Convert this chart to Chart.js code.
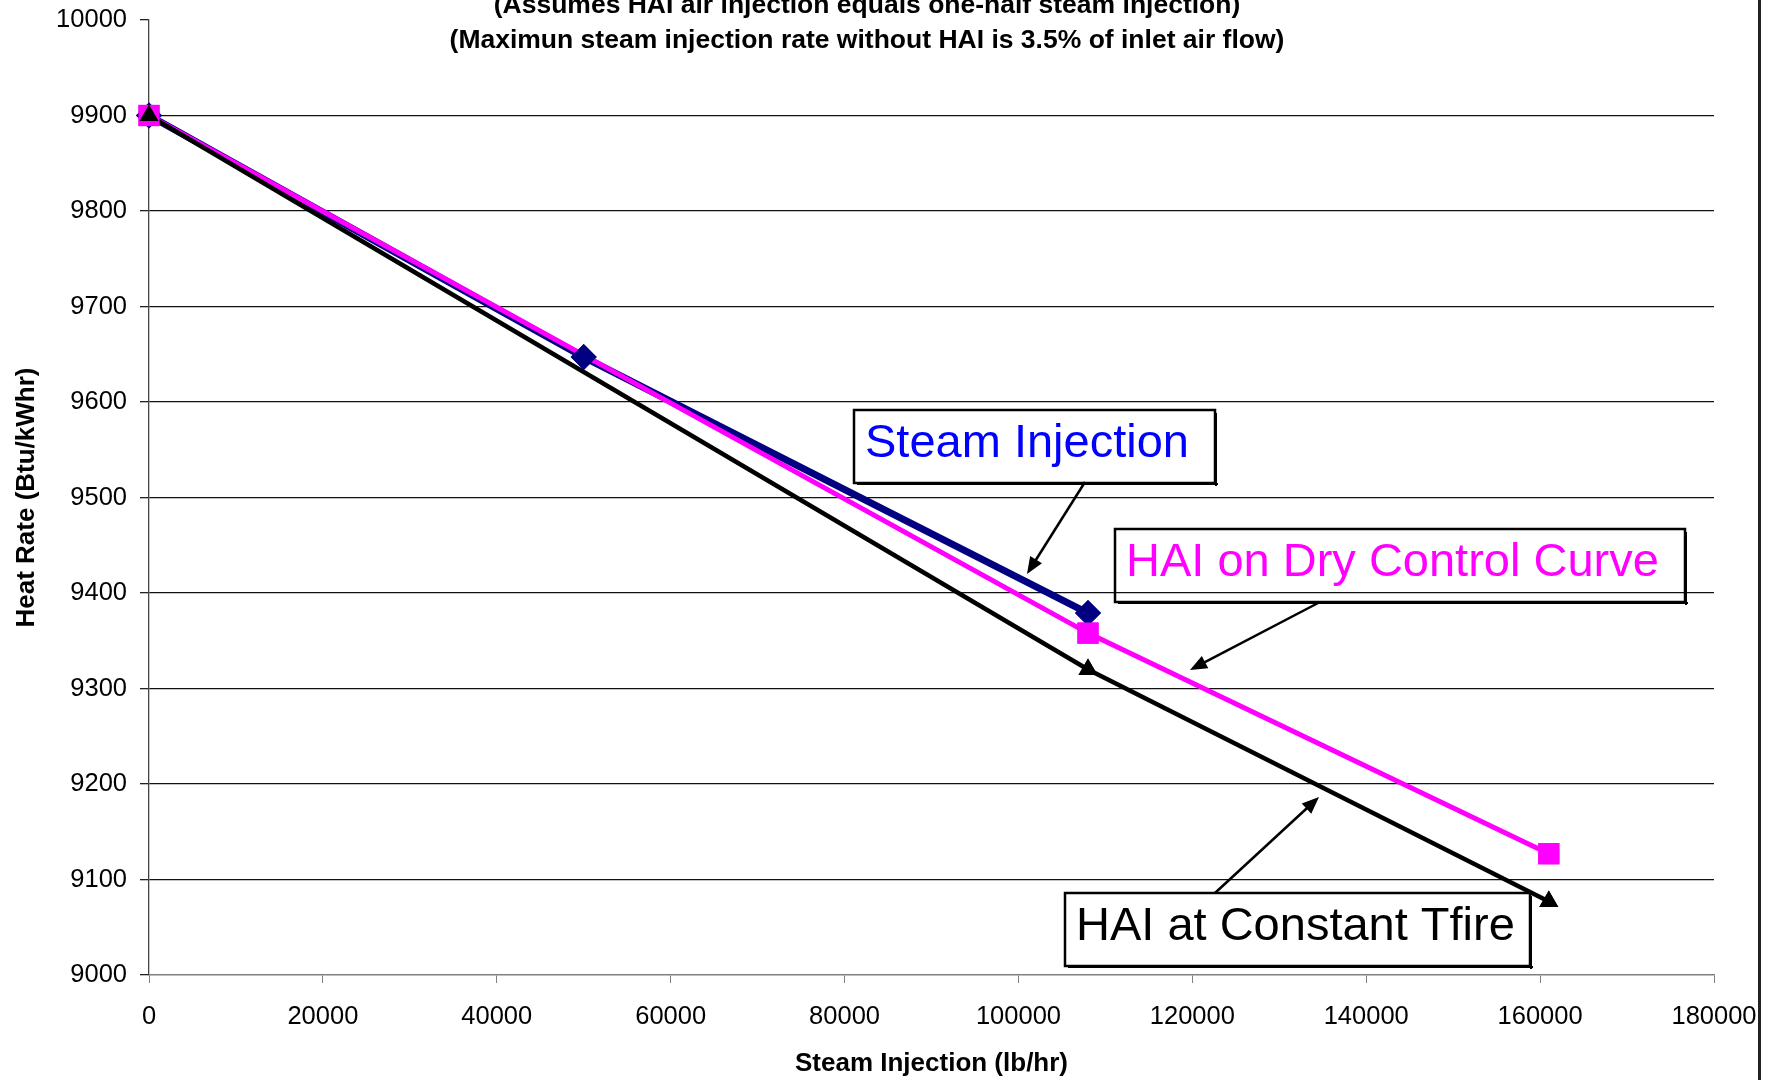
<!DOCTYPE html>
<html>
<head>
<meta charset="utf-8">
<script src="https://cdn.jsdelivr.net/npm/chart.js@4.4.1/dist/chart.umd.min.js"></script>
<style>
  html, body { margin: 0; padding: 0; background: #fff; }
  #wrap { width: 1780px; height: 1080px; }
</style>
</head>
<body>
<div id="wrap"><canvas id="heatChart" width="1780" height="1080"></canvas></div>
<script>
const titleLines = [
  "(Assumes HAI air injection equals one-half steam injection)",
  "(Maximun steam injection rate without HAI is 3.5% of inlet air flow)"
];
const xTicks = [0, 20000, 40000, 60000, 80000, 100000, 120000, 140000, 160000, 180000];
const yTicks = [9000, 9100, 9200, 9300, 9400, 9500, 9600, 9700, 9800, 9900, 10000];
const seriesNames = ["Steam Injection", "HAI on Dry Control Curve", "HAI at Constant Tfire"];

const steamX = [0, 50000, 108000];
const steamY = [9900, 9647, 9379];
const dryX = [0, 108000, 161000];
const dryY = [9900, 9358, 9127];
const tfireX = [0, 108000, 161000];
const tfireY = [9900, 9320, 9077];

const FONT = "'Liberation Sans', Arial, sans-serif";

function toPoints(xs, ys) {
  return xs.map((x, i) => ({ x: x, y: ys[i] }));
}

// text boxes with arrows, in canvas pixels
const notes = [
  { text: seriesNames[0], color: "#0000FF", box: [854, 410, 1215, 483], tx: 865, ty: 457, arrow: [1085, 482, 1027, 574] },
  { text: seriesNames[1], color: "#FF00FF", box: [1115, 529, 1685, 602], tx: 1126, ty: 576, arrow: [1320, 602, 1190, 670] },
  { text: seriesNames[2], color: "#000000", box: [1065, 893, 1530, 966], tx: 1076, ty: 940, arrow: [1215, 893, 1319, 797] }
];

function drawArrow(ctx, x1, y1, x2, y2) {
  const ang = Math.atan2(y2 - y1, x2 - x1);
  const len = 17, half = 7;
  ctx.beginPath();
  ctx.moveTo(x1, y1);
  ctx.lineTo(x2 - Math.cos(ang) * len * 0.8, y2 - Math.sin(ang) * len * 0.8);
  ctx.stroke();
  ctx.beginPath();
  ctx.moveTo(x2, y2);
  ctx.lineTo(x2 - Math.cos(ang) * len - Math.sin(ang) * half, y2 - Math.sin(ang) * len + Math.cos(ang) * half);
  ctx.lineTo(x2 - Math.cos(ang) * len + Math.sin(ang) * half, y2 - Math.sin(ang) * len - Math.cos(ang) * half);
  ctx.closePath();
  ctx.fill();
}

// markers go over all the lines, series by series (like the spreadsheet did)
const markersOnTop = {
  id: "markersOnTop",
  afterDatasetsDraw(chart) {
    [0, 1, 2].forEach(i => {
      chart.getDatasetMeta(i).data.forEach(pt => pt.draw(chart.ctx, chart.chartArea));
    });
  }
};

const extras = {
  id: "extras",
  afterDraw(chart) {
    const ctx = chart.ctx;
    ctx.save();
    // title (top line is cut by the page edge)
    ctx.fillStyle = "#000";
    ctx.font = "bold 26.5px " + FONT;
    ctx.textAlign = "center";
    ctx.textBaseline = "middle";
    ctx.fillText(titleLines[0], 867, 6);
    ctx.fillText(titleLines[1], 867, 41);

    // notes
    ctx.textAlign = "left";
    ctx.textBaseline = "alphabetic";
    notes.forEach(n => {
      const [l, t, r, b] = n.box;
      ctx.fillStyle = "#000";
      ctx.fillRect(l + 3, b, r - l, 2);
      ctx.fillRect(r, t + 3, 2, b - t);
      ctx.strokeStyle = "#000";
      ctx.lineWidth = 2.5;
      ctx.strokeRect(l, t, r - l, b - t);
      ctx.font = "47px " + FONT;
      ctx.fillStyle = n.color;
      ctx.fillText(n.text, n.tx, n.ty);
      ctx.fillStyle = "#000";
      ctx.lineWidth = 2.5;
      drawArrow(ctx, ...n.arrow);
    });

    // right frame
    ctx.fillStyle = "#222";
    ctx.fillRect(1758, 0, 3, 1080);
    ctx.restore();
  }
};

new Chart(document.getElementById("heatChart").getContext("2d"), {
  type: "line",
  data: {
    datasets: [
      {
        label: seriesNames[0],
        data: toPoints(steamX, steamY),
        borderColor: "#000080",
        backgroundColor: "#000080",
        borderWidth: 7,
        pointStyle: "rectRot",
        pointRadius: 13,
        pointBorderWidth: 0,
        order: 3,
        clip: false
      },
      {
        label: seriesNames[1],
        data: toPoints(dryX, dryY),
        borderColor: "#FF00FF",
        backgroundColor: "#FF00FF",
        borderWidth: 5,
        pointStyle: "rect",
        pointRadius: 15,
        pointBorderWidth: 0,
        order: 2,
        clip: false
      },
      {
        label: seriesNames[2],
        data: toPoints(tfireX, tfireY),
        borderColor: "#000000",
        backgroundColor: "#000000",
        borderWidth: 4.5,
        pointStyle: "triangle",
        pointRadius: 11,
        pointBorderWidth: 0,
        order: 1,
        clip: false
      }
    ]
  },
  options: {
    responsive: false,
    animation: false,
    layout: { padding: { left: 0, top: 20, right: 66, bottom: 0 } },
    plugins: {
      legend: { display: false },
      tooltip: { enabled: false }
    },
    elements: { line: { tension: 0 } },
    scales: {
      x: {
        type: "linear",
        min: 0,
        max: 180000,
        afterBuildTicks: s => { s.ticks = xTicks.map(v => ({ value: v })); },
        afterFit: s => { s.height = 105; },
        grid: { drawOnChartArea: false, drawTicks: true, tickLength: 8, color: "#808080" },
        border: { color: "#808080", width: 1.5 },
        ticks: {
          color: "#000",
          font: { family: FONT, size: 25.5 },
          padding: 19,
          maxRotation: 0,
          autoSkip: false,
          callback: v => String(v)
        },
        title: {
          display: true,
          text: "Steam Injection (lb/hr)",
          color: "#000",
          font: { family: FONT, size: 26, weight: "bold", lineHeight: 1.2 },
          padding: { top: 0, bottom: 1 }
        }
      },
      y: {
        type: "linear",
        min: 9000,
        max: 10000,
        afterBuildTicks: s => { s.ticks = yTicks.map(v => ({ value: v })); },
        afterFit: s => { s.width = 149; s.paddingTop = 0; s.paddingBottom = 0; },
        grid: {
          color: c => (c.tick && (c.tick.value === 10000 || c.tick.value === 9000)) ? "rgba(0,0,0,0)" : "#111",
          tickColor: "#222",
          lineWidth: 1.3,
          tickLength: 9
        },
        border: { color: "#444", width: 1.3 },
        ticks: {
          color: "#000",
          font: { family: FONT, size: 25.5 },
          padding: 13,
          autoSkip: false,
          callback: v => String(v)
        },
        title: {
          display: true,
          text: "Heat Rate (Btu/kWhr)",
          color: "#000",
          font: { family: FONT, size: 26, weight: "bold", lineHeight: 1.2 },
          padding: { top: 11, bottom: 0 }
        }
      }
    }
  },
  plugins: [markersOnTop, extras]
});
</script>
</body>
</html>
